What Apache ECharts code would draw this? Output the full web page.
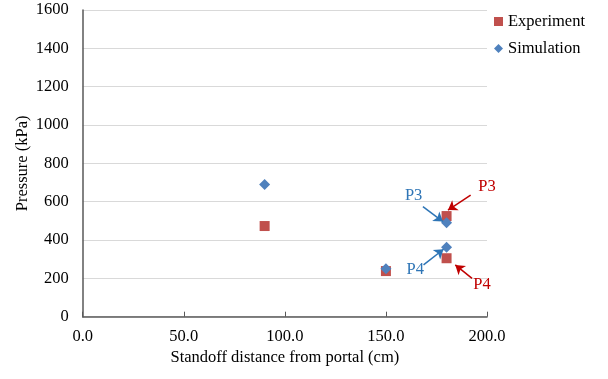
<!DOCTYPE html>
<html><head><meta charset="utf-8">
<script src="https://cdn.jsdelivr.net/npm/echarts@6/dist/echarts.min.js"></script>
<style>html,body{margin:0;padding:0;background:#fff}#c{width:608px;height:379px}</style>
</head><body><div id="c"></div>
<script>
const experimentX = [90, 150, 180, 180];
const experimentY = [473, 238, 525, 305];
const simulationX = [90, 150, 180, 180];
const simulationY = [690, 250, 490, 362];
const xTicks = [0, 50, 100, 150, 200];
const yTicks = [0, 200, 400, 600, 800, 1000, 1200, 1400, 1600];
// annotation arrows: [label, color, textX, textY, fromX, fromY, toX, toY]
const notes = [
  ['P3', '#C00000', 200, 678, 191.9, 634, 180.7, 556],
  ['P4', '#C00000', 197.5, 165, 192.6, 200, 184.3, 270],
  ['P3', '#2E75B6', 163.7, 630, 168.3, 574, 178.2, 496],
  ['P4', '#2E75B6', 164.5, 244, 168.6, 270, 178.5, 352]
];
const FONT = 'Liberation Serif';
const FS = 16.5;
const chart = echarts.init(document.getElementById('c'));
const zip = (a, b) => a.map((v, i) => [v, b[i]]);
chart.setOption({
  animation: false,
  textStyle: { fontFamily: FONT },
  grid: { left: 82.7, right: 121, top: 10, bottom: 62.3 },
  legend: {
    orient: 'vertical', right: 18, top: 8, itemGap: 10, itemWidth: 9, itemHeight: 9,
    textStyle: { fontFamily: FONT, fontSize: FS, color: '#000' },
    data: [{ name: 'Experiment', icon: 'rect' }, { name: 'Simulation', icon: 'diamond' }]
  },
  xAxis: {
    type: 'value', min: xTicks[0], max: xTicks[xTicks.length - 1], interval: 50,
    name: 'Standoff distance from portal (cm)', nameLocation: 'middle', nameGap: 32,
    nameMoveOverlap: false,
    nameTextStyle: { fontFamily: FONT, fontSize: FS, color: '#000' },
    axisLine: { show: true, lineStyle: { color: '#595959', width: 1.5 } },
    axisTick: { show: true, inside: true, length: 5, lineStyle: { color: '#595959' } },
    splitLine: { show: false },
    axisLabel: { fontFamily: FONT, fontSize: FS, color: '#000', margin: 11, formatter: v => v.toFixed(1) }
  },
  yAxis: {
    type: 'value', min: yTicks[0], max: yTicks[yTicks.length - 1], interval: 200,
    name: 'Pressure (kPa)', nameLocation: 'middle', nameGap: 52,
    nameMoveOverlap: false,
    nameTextStyle: { fontFamily: FONT, fontSize: FS, color: '#000' },
    axisLine: { show: true, lineStyle: { color: '#595959', width: 1.5 } },
    axisTick: { show: false },
    splitLine: { show: true, lineStyle: { color: '#D9D9D9', width: 1 } },
    axisLabel: { fontFamily: FONT, fontSize: FS, color: '#000', margin: 14, formatter: v => String(v) }
  },
  series: [
    {
      name: 'Experiment', type: 'scatter', symbol: 'rect', symbolSize: 10,
      itemStyle: { color: '#C0504D', opacity: 1 }, data: zip(experimentX, experimentY), z: 2
    },
    {
      name: 'Simulation', type: 'scatter', symbol: 'diamond', symbolSize: 11,
      itemStyle: { color: '#4F81BD', opacity: 1 }, data: zip(simulationX, simulationY), z: 3
    },
    {
      name: 'notes', type: 'scatter', data: [], z: 4, silent: true,
      markLine: {
        silent: true, symbol: ['none', 'arrow'], symbolSize: 9, label: { show: false },
        data: notes.map(n => [
          { coord: [n[4], n[5]], lineStyle: { color: n[1], width: 1.5, type: 'solid' } },
          { coord: [n[6], n[7]] }
        ])
      },
      markPoint: {
        silent: true, symbol: 'circle', symbolSize: 1, itemStyle: { color: 'rgba(0,0,0,0)' },
        data: notes.map(n => ({
          coord: [n[2], n[3]],
          label: { show: true, position: 'inside', formatter: n[0], color: n[1], fontFamily: FONT, fontSize: FS }
        }))
      }
    }
  ]
});
</script></body></html>
